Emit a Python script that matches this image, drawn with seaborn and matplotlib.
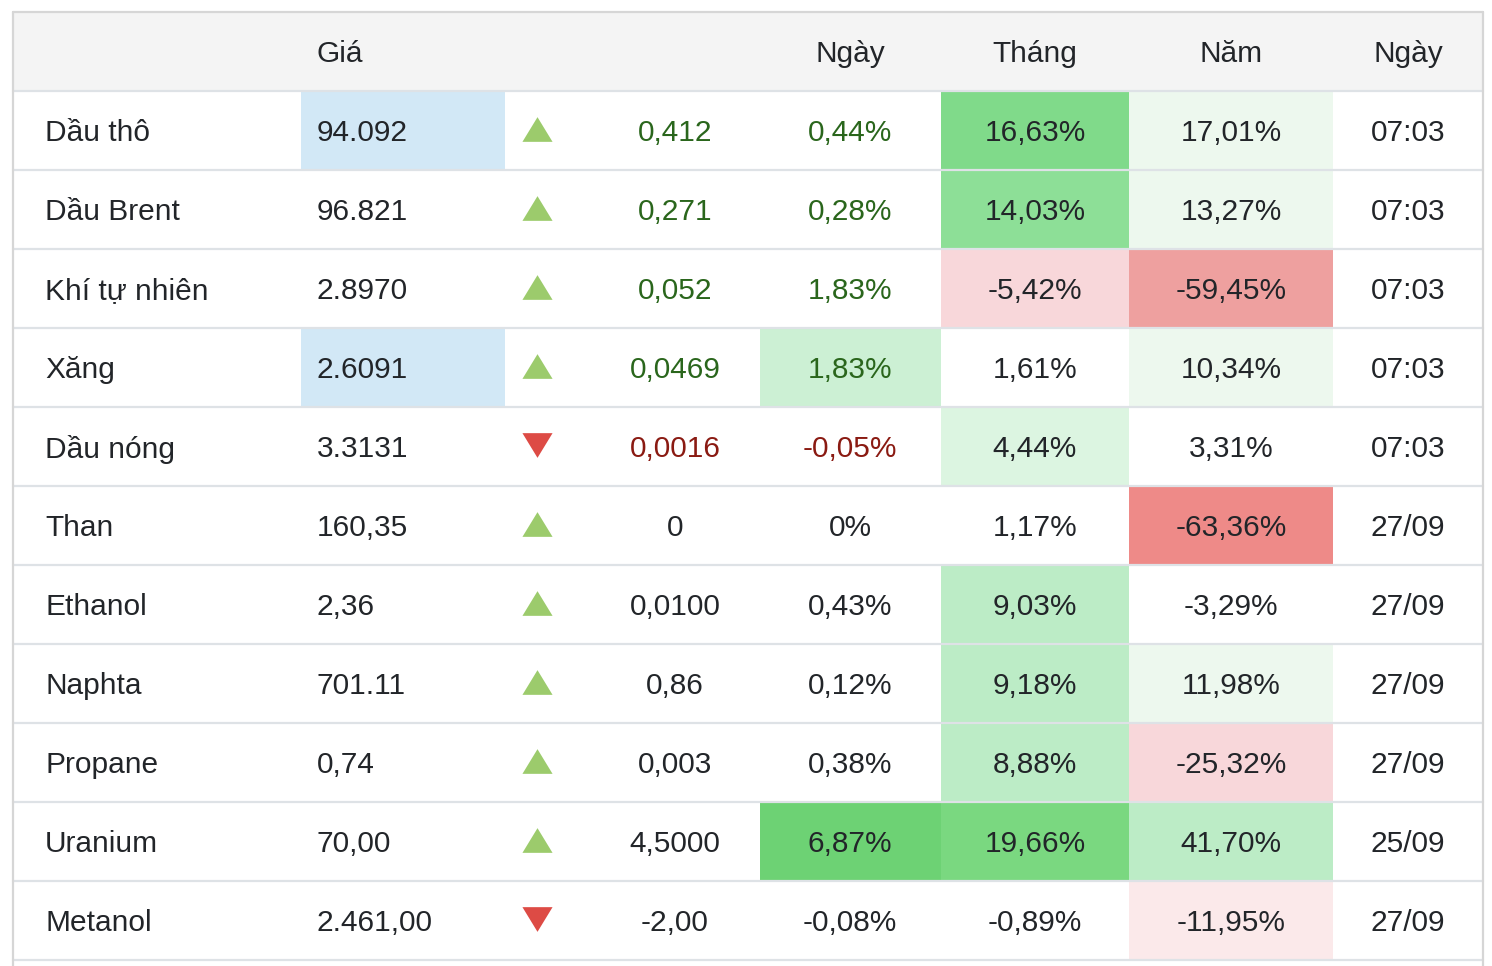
import matplotlib
matplotlib.use('Agg')
import matplotlib.pyplot as plt
import seaborn as sns
import pandas as pd

# Table contents
names = ['Dầu thô', 'Dầu Brent', 'Khí tự nhiên', 'Xăng', 'Dầu nóng', 'Than',
         'Ethanol', 'Naphta', 'Propane', 'Uranium', 'Metanol']
prices = ['94.092', '96.821', '2.8970', '2.6091', '3.3131', '160,35',
          '2,36', '701.11', '0,74', '70,00', '2.461,00']
direction = ['up', 'up', 'up', 'up', 'down', 'up', 'up', 'up', 'up', 'up', 'down']
changes = ['0,412', '0,271', '0,052', '0,0469', '0,0016', '0',
           '0,0100', '0,86', '0,003', '4,5000', '-2,00']
day_pct = ['0,44%', '0,28%', '1,83%', '1,83%', '-0,05%', '0%',
           '0,43%', '0,12%', '0,38%', '6,87%', '-0,08%']
month_pct = ['16,63%', '14,03%', '-5,42%', '1,61%', '4,44%', '1,17%',
             '9,03%', '9,18%', '8,88%', '19,66%', '-0,89%']
year_pct = ['17,01%', '13,27%', '-59,45%', '10,34%', '3,31%', '-63,36%',
            '-3,29%', '11,98%', '-25,32%', '41,70%', '-11,95%']
times = ['07:03', '07:03', '07:03', '07:03', '07:03', '27/09',
         '27/09', '27/09', '27/09', '25/09', '27/09']
headers = ['', 'Giá', '', '', 'Ngày', 'Tháng', 'Năm', 'Ngày']

# Cell shading (style)
W = None
price_bg = ['#d2e8f6', W, W, '#d2e8f6', W, W, W, W, W, W, W]
day_bg = [W, W, W, '#ccf0d4', W, W, W, W, W, '#6dd274', W]
month_bg = ['#80da8a', '#8ddf97', '#f8d7da', W, '#dcf5e1', W,
            '#bcecc6', '#bcecc6', '#bcecc6', '#7ad880', W]
year_bg = ['#edf8ee', '#edf8ee', '#eea09f', '#edf8ee', W, '#ee8a88',
           W, '#edf8ee', '#f8d7da', '#bcecc6', '#fbe9ea']

# Layout in pixels
col_edges = [13, 301, 505, 568, 760, 941, 1129, 1333, 1483]
top, header_h, row_h = 12, 79, 79
green_txt, red_txt, dark_txt = '#2a661c', '#8a1a12', '#222529'
dy = 2.5  # nudge text down to match baseline

sns.set_theme(style='white')
plt.rcParams['font.family'] = ['Liberation Sans', 'DejaVu Sans']

fig = plt.figure(figsize=(14.92, 9.66), dpi=100)
ax = fig.add_axes([0, 0, 1, 1])

n = len(names)
row_tops = [top + header_h + i * row_h for i in range(n)]
row_mid = [t + row_h / 2 for t in row_tops]

# header background
ax.bar(col_edges[0], header_h, width=col_edges[-1] - col_edges[0], bottom=top,
       align='edge', color='#f4f4f4', linewidth=0)

# shaded cells
for bgs, c0, c1 in [(price_bg, 1, 2), (day_bg, 4, 5), (month_bg, 5, 6), (year_bg, 6, 7)]:
    for i, col in enumerate(bgs):
        if col:
            ax.bar(col_edges[c0], row_h, width=col_edges[c1] - col_edges[c0],
                   bottom=row_tops[i], align='edge', color=col, linewidth=0)

# grid lines
for y in [top + header_h] + [t + row_h for t in row_tops]:
    ax.plot([col_edges[0], col_edges[-1]], [y, y], color='#dee2e6', lw=1.6)
ax.plot([col_edges[0], col_edges[-1]], [top, top], color='#d6d6d6', lw=1.6)
ax.plot([col_edges[0], col_edges[0]], [top, 966], color='#d6d6d6', lw=1.6)
ax.plot([col_edges[-1], col_edges[-1]], [top, 966], color='#d6d6d6', lw=1.6)

fs = 21.5
hy = top + header_h / 2 + dy
ax.text(317, hy, headers[1], ha='left', va='center', fontsize=fs, color=dark_txt)
for x, h in [(850, headers[4]), (1035, headers[5]), (1231, headers[6]), (1408, headers[7])]:
    ax.text(x, hy, h, ha='center', va='center', fontsize=fs, color=dark_txt)

for i in range(n):
    y = row_mid[i] + dy
    if i < 4:
        c = green_txt
    elif i == 4:
        c = red_txt
    else:
        c = dark_txt
    ax.text(45, y, names[i], ha='left', va='center', fontsize=fs, color=dark_txt)
    ax.text(317, y, prices[i], ha='left', va='center', fontsize=fs, color=dark_txt)
    ax.text(675, y, changes[i], ha='center', va='center', fontsize=fs, color=c)
    ax.text(850, y, day_pct[i], ha='center', va='center', fontsize=fs, color=c)
    ax.text(1035, y, month_pct[i], ha='center', va='center', fontsize=fs, color=dark_txt)
    ax.text(1231, y, year_pct[i], ha='center', va='center', fontsize=fs, color=dark_txt)
    ax.text(1408, y, times[i], ha='center', va='center', fontsize=fs, color=dark_txt)

# arrows
arrows = pd.DataFrame({'x': [537] * n, 'y': [m - 1.5 for m in row_mid], 'dir': direction})
up = arrows[arrows['dir'] == 'up']
down = arrows[arrows['dir'] == 'down']
sns.scatterplot(data=up, x='x', y='y', marker=[(-1, -0.82), (1, -0.82), (0, 0.82)],
                s=470, color='#9ccb6c', linewidth=0, ax=ax, legend=False)
sns.scatterplot(data=down, x='x', y='y', marker=[(-1, 0.82), (1, 0.82), (0, -0.82)],
                s=470, color='#dd4b45', linewidth=0, ax=ax, legend=False)
ax.set_xlim(0, 1492)
ax.set_ylim(966, 0)
ax.axis('off')

fig.savefig('out.png', dpi=100)
